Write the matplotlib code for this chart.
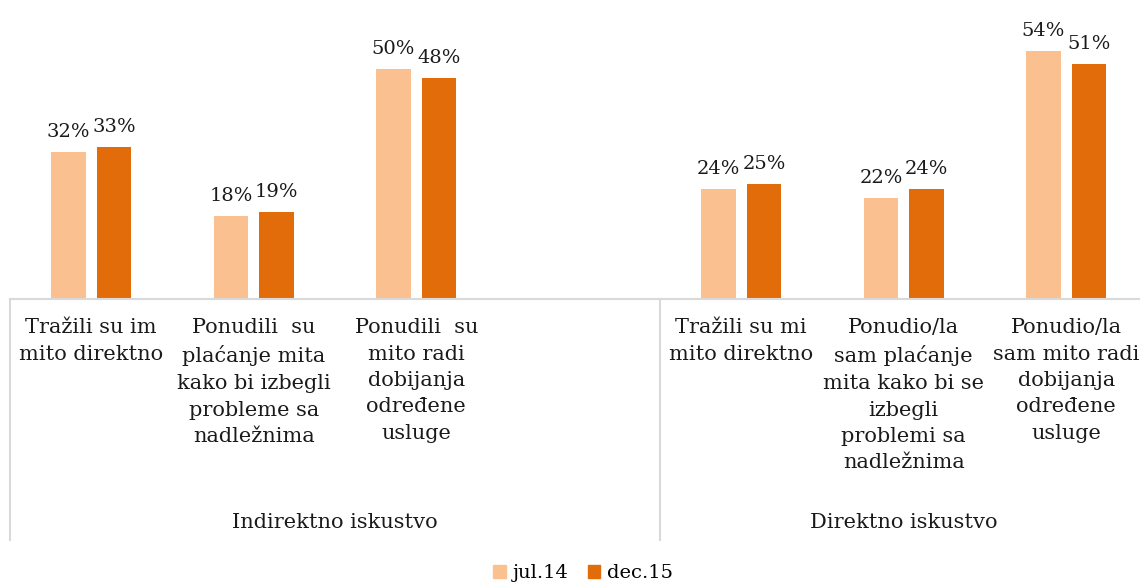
import matplotlib.pyplot as plt
from matplotlib.patches import Patch
from matplotlib.lines import Line2D
from matplotlib.transforms import blended_transform_factory
import numpy as np

# data
groups = ['Indirektno iskustvo', 'Direktno iskustvo']
categories = [
    'Tražili su im\nmito direktno',
    'Ponudili  su\nplaćanje mita\nkako bi izbegli\nprobleme sa\nnadležnima',
    'Ponudili  su\nmito radi\ndobijanja\nodređene\nusluge',
    '',
    'Tražili su mi\nmito direktno',
    'Ponudio/la\nsam plaćanje\nmita kako bi se\nizbegli\nproblemi sa\nnadležnima',
    'Ponudio/la\nsam mito radi\ndobijanja\nodređene\nusluge',
]
series_names = ['jul.14', 'dec.15']
jul14 = [32, 18, 50, None, 24, 22, 54]
dec15 = [33, 19, 48, None, 25, 24, 51]

light = '#FAC090'
dark = '#E36C0A'
grid_col = '#D9D9D9'
font = 'DejaVu Serif'

W, H = 1140, 585
fig = plt.figure(figsize=(W / 100, H / 100), dpi=100)
ax = fig.add_axes([10 / W, 1 - 299 / H, 1137.5 / W, 276 / H])

x = np.arange(len(categories))
bw = 0.215
off = 0.14
for xi, v1, v2 in zip(x, jul14, dec15):
    if v1 is None:
        continue
    ax.bar(xi - off, v1, bw, color=light)
    ax.bar(xi + off, v2, bw, color=dark)
    ax.text(xi - off, v1 + 2.4, '%d%%' % v1, ha='center', va='bottom',
            fontsize=14, family=font, color='#1a1a1a', clip_on=False)
    ax.text(xi + off, v2 + 2.4, '%d%%' % v2, ha='center', va='bottom',
            fontsize=14, family=font, color='#1a1a1a', clip_on=False)

ax.set_xlim(-0.5, len(categories) - 0.5)
ax.set_ylim(0, 60)
for s in ['top', 'left', 'right']:
    ax.spines[s].set_visible(False)
ax.spines['bottom'].set_color(grid_col)
ax.spines['bottom'].set_linewidth(1.5)
ax.set_xticks([])
ax.set_yticks([])

tr = blended_transform_factory(ax.transData, fig.transFigure)
for xi, lab in zip(x, categories):
    ax.text(xi, 1 - 318 / H, lab, transform=tr, ha='center', va='top',
            fontsize=15, family=font, linespacing=1.5, color='#1a1a1a')

# group labels and separators
ax.text(1.5, 1 - 523 / H, groups[0], transform=tr, ha='center', va='center',
        fontsize=15, family=font, color='#1a1a1a')
ax.text(5.0, 1 - 523 / H, groups[1], transform=tr, ha='center', va='center',
        fontsize=15, family=font, color='#1a1a1a')
for sx in [-0.5, 3.5, 6.5]:
    fig.add_artist(Line2D([sx, sx], [1 - 299 / H, 1 - 540 / H], transform=tr,
                          color=grid_col, lw=1.5))

handles = [Patch(color=light), Patch(color=dark)]
fig.legend(handles, series_names, loc='center', bbox_to_anchor=(583 / W, 1 - 573 / H),
           ncol=2, frameon=False, prop={'family': font, 'size': 14},
           handlelength=0.65, handleheight=0.65, handletextpad=0.35, columnspacing=1.0)

fig.savefig('out.png', dpi=100)
